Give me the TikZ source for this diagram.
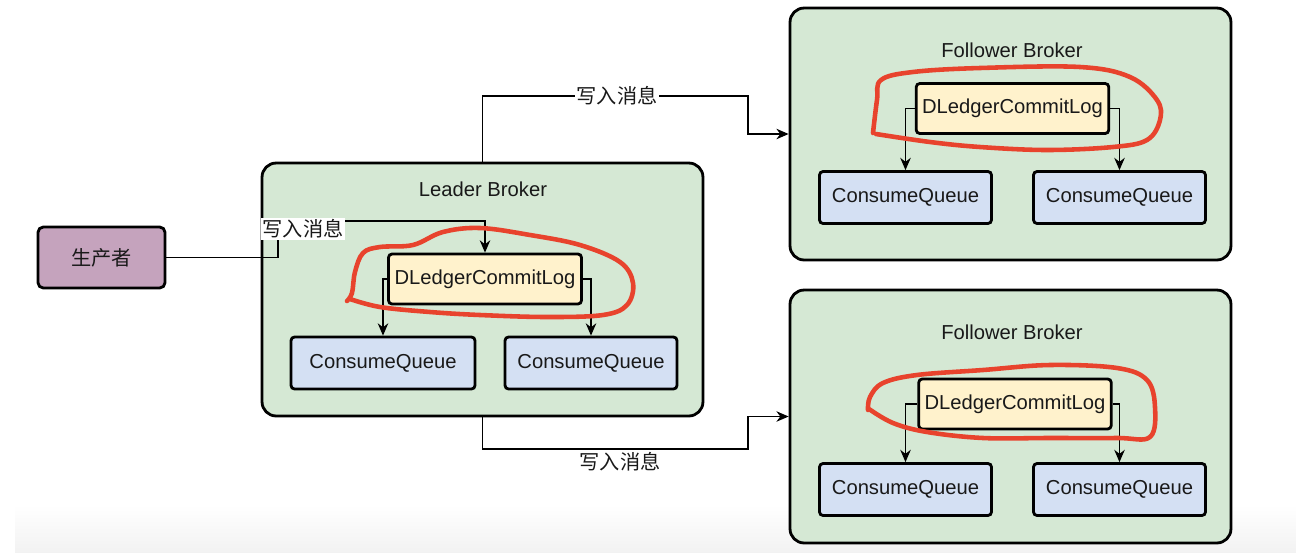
\documentclass[tikz,border=0pt]{standalone}
\usepackage{fontspec}
\setmainfont{Liberation Sans}
\newfontfamily\cjk{Noto Sans CJK SC}
\usepackage{tikz}
\usetikzlibrary{positioning,arrows.meta}
\definecolor{brokergreen}{HTML}{D5E8D4}
\definecolor{logyellow}{HTML}{FFF2CC}
\definecolor{queueblue}{HTML}{D4E0F3}
\definecolor{prodpurple}{HTML}{C5A3BD}
\definecolor{penred}{HTML}{E8432D}

\begin{document}
\begin{tikzpicture}[x=0.02cm, y=-0.02cm,
    every node/.style={font=\fontsize{11.5}{13}\selectfont, text=black!90},
    broker/.style={draw, line width=1.6pt, rounded corners=8pt, fill=brokergreen},
    logbox/.style={draw, line width=1.6pt, rounded corners=2pt, fill=logyellow,
                   minimum width=3.86cm, minimum height=1cm},
    queuebox/.style={draw, line width=1.6pt, rounded corners=2pt, fill=queueblue,
                     minimum height=1.04cm},
    link/.style={line width=0.7pt, -{Stealth[length=7pt,width=6pt]}},
    msg/.style={font=\cjk\fontsize{11.5}{13}\selectfont, fill=white, inner sep=1pt},
    circled/.style={penred, line width=2.6pt, line cap=round, line join=round}]

    % Page and bottom shadow strip
    \useasboundingbox (0,0) rectangle (1296,552);
    \fill[white] (0,0) rectangle (1296,552);
    \shade[top color=white, bottom color=black!5] (15,505) rectangle (1296,552);

    % --- PRODUCER ---
    \node[draw, line width=1.6pt, rounded corners=3pt, fill=prodpurple,
          minimum width=2.54cm, minimum height=1.22cm, font=\cjk\fontsize{11.5}{13}\selectfont]
          (prod) at (101.5,257.5) {生产者};

    % --- LEADER BROKER ---
    \node[broker, minimum width=8.82cm, minimum height=5.06cm] (leader) at (482.5,289.5) {};
    \node (leadtitle) at (483,189) {Leader Broker};
    \node[logbox] (leadlog) at (485,279) {DLedgerCommitLog};
    \node[queuebox, minimum width=3.68cm] (leadq1) at (383,363) {ConsumeQueue};
    \node[queuebox, minimum width=3.44cm] (leadq2) at (591,363) {ConsumeQueue};

    % --- FOLLOWER BROKER (top) ---
    \node[broker, minimum width=8.82cm, minimum height=5.04cm] (fol1) at (1010.5,134) {};
    \node (fol1title) at (1012,50) {Follower Broker};
    \node[logbox, minimum width=3.82cm] (fol1log) at (1012.5,108.5) {DLedgerCommitLog};
    \node[queuebox, minimum width=3.44cm] (fol1q1) at (905.5,197.5) {ConsumeQueue};
    \node[queuebox, minimum width=3.44cm] (fol1q2) at (1119.5,197.5) {ConsumeQueue};

    % --- FOLLOWER BROKER (bottom) ---
    \node[broker, minimum width=8.82cm, minimum height=5.06cm] (fol2) at (1010.5,416.5) {};
    \node (fol2title) at (1012,332) {Follower Broker};
    \node[logbox, minimum width=3.72cm] (fol2log) at (1015,404) {DLedgerCommitLog};
    \node[queuebox, minimum width=3.44cm] (fol2q1) at (905.5,489.5) {ConsumeQueue};
    \node[queuebox, minimum width=3.44cm] (fol2q2) at (1119.5,489.5) {ConsumeQueue};

    % --- WRITES ---
    \draw[link] (prod.east) -| (278,221) -| (leadlog.north);
    \node[msg] (prodmsg) at (303,229) {写入消息};
    \draw[link] (leader.north) |- (748,96) |- (fol1.west);
    \node[msg] (topmsg) at (617,96) {写入消息};
    \draw[link] (leader.south) |- (748,449) |- (fol2.west);
    \node[msg] (botmsg) at (620,462) {写入消息};

    % Commit log to consume queues
    \draw[link] (leadlog.west) -| (leadq1.north);
    \draw[link] (leadlog.east) -| (leadq2.north);
    \draw[link] (fol1log.west) -| (fol1q1.north);
    \draw[link] (fol1log.east) -| (fol1q2.north);
    \draw[link] (fol2log.west) -| (fol2q1.north);
    \draw[link] (fol2log.east) -| (fol2q2.north);

    % --- RED PEN LOOPS ---
    \draw[circled] plot[smooth, tension=0.6] coordinates {
        (347,301) (352,293) (355,272) (363,253) (380,247) (413,245) (443,232)
        (480,228) (530,235) (580,245) (620,262) (633,283) (627,305) (603,315)
        (547,317) (480,315) (430,312) (380,307) (350,299)};
    \draw[circled] plot[smooth, tension=0.6] coordinates {
        (873,133) (877,100) (881,80) (913,72) (980,68) (1080,67) (1130,77)
        (1157,100) (1160,120) (1147,140) (1113,147) (1047,150) (980,147)
        (930,142) (876,134)};
    \draw[circled] plot[smooth, tension=0.6] coordinates {
        (868,410) (870,397) (883,383) (917,375) (983,370) (1050,365) (1117,368)
        (1147,380) (1155,407) (1150,437) (1117,438) (1050,438) (983,438)
        (927,432) (893,423) (869,409)};
\end{tikzpicture}
\end{document}
